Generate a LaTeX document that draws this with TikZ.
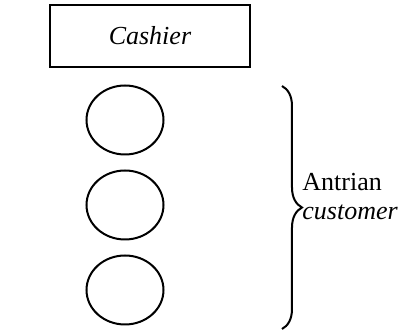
\documentclass[tikz,border=0pt]{standalone}
\usepackage{fontspec}
\setmainfont{Liberation Serif}
\newfontfamily\labelfont{Liberation Serif}
\usetikzlibrary{positioning, shapes.geometric, decorations.pathreplacing}

\begin{document}
\begin{tikzpicture}[
  x=0.5pt, y=-0.5pt,
  font=\labelfont\fontsize{13}{14.5}\selectfont,
  counter/.style={draw, line width=1pt, minimum width=100pt, minimum height=31pt, inner sep=0pt},
  person/.style={draw, line width=1pt, ellipse, minimum width=38.5pt, minimum height=34.5pt, inner sep=0pt},
  queue/.style={draw, line width=1pt, decorate, decoration={brace, amplitude=10pt}},
]
\useasboundingbox (0,0) rectangle (403,331);
\node[counter] (cashier) at (150,36) {\textit{Cashier}};
\node[person] (c1) at (125,120) {};
\node[person, below=7pt of c1] (c2) {};
\node[person, below=7pt of c2] (c3) {};

\coordinate (btop) at (282,86);
\coordinate (bbot) at (282,329);
\draw[queue] (btop) -- (bbot);
\node[anchor=base west, align=left, inner sep=0pt] (label) at (302,220) {Antrian\\\textit{customer}};
\end{tikzpicture}
\end{document}
